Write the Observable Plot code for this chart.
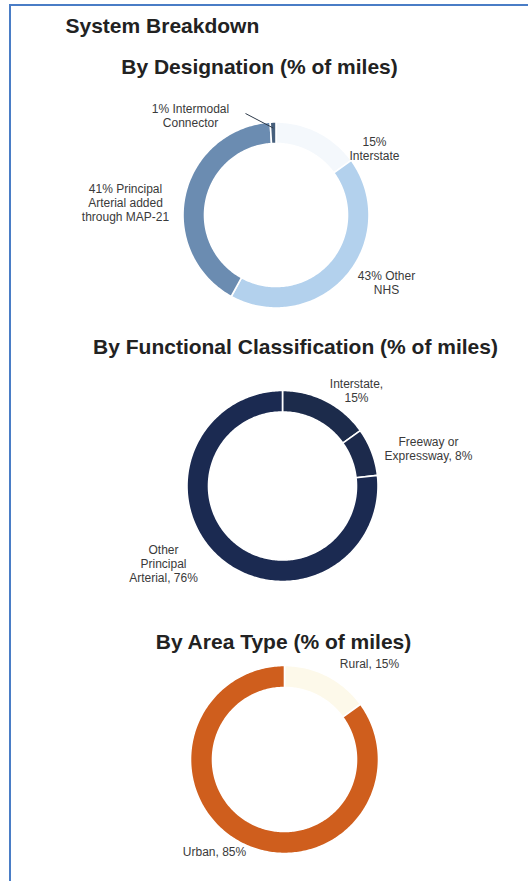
<!DOCTYPE html>
<html>
<head>
<meta charset="utf-8">
<script src="https://cdn.jsdelivr.net/npm/d3@7"></script>
<script src="https://cdn.jsdelivr.net/npm/@observablehq/plot@0.6"></script>
<style>
  html, body { margin: 0; padding: 0; background: #fff; }
  body { width: 528px; height: 881px; overflow: hidden; position: relative; }
  #frame { position: absolute; left: 9px; top: 4px; width: 530px; height: 890px;
           border-left: 2px solid #4a7dc6; border-top: 2px solid #4a7dc6; box-sizing: border-box; }
  #chart { position: absolute; left: 0; top: 0; }
</style>
</head>
<body>
<div id="frame"></div>
<div id="chart"></div>
<script>
// ---------- data ----------
const mainTitle = "System Breakdown";

const designationTitle = "By Designation (% of miles)";
const designationKeys = ["Interstate", "Other NHS", "Principal Arterial added through MAP-21", "Intermodal Connector"];
const designationValues = [15, 43, 41, 1];
const designationLabels = ["15%\nInterstate", "43% Other\nNHS", "41% Principal\nArterial added\nthrough MAP-21", "1% Intermodal\nConnector"];

const functionalTitle = "By Functional Classification (% of miles)";
const functionalKeys = ["Interstate", "Freeway or Expressway", "Other Principal Arterial"];
const functionalValues = [15, 8, 76];
const functionalLabels = ["Interstate,\n15%", "Freeway or\nExpressway, 8%", "Other\nPrincipal\nArterial, 76%"];

const areaTitle = "By Area Type (% of miles)";
const areaKeys = ["Rural", "Urban"];
const areaValues = [15, 85];
const areaLabels = ["Rural, 15%", "Urban, 85%"];

// ---------- styles / layout ----------
const designationColors = ["#f4f8fc", "#b3d1ed", "#6b8cb1", "#465f7c"];
const functionalColors = ["#1c2b4b", "#1c2a4c", "#1b2a51"];
const areaColors = ["#fdf9ea", "#cf5e1d"];

const layout = {
  designation: {cx: 275.5, cy: 214.5, r0: 71.5, r1: 93, titleX: 259, titleY: 73,
    labelOffsets: [[98.5, -66.5], [110.5, 67.5], [-150.5, -12.5], [-85.5, -99.5]]},
  functional: {cx: 282, cy: 485.5, r0: 74, r1: 95.5, titleX: 295, titleY: 353,
    labelOffsets: [[74, -95.5], [146, -37.5], [-119, 77.5]]},
  area: {cx: 284, cy: 759, r0: 72, r1: 94, titleX: 283, titleY: 648,
    labelOffsets: [[85, -96], [-70, 92]]}
};

// ---------- geometry from data ----------
const pie = d3.pie().sort(null).value(d => d.value);

function donut(name, keys, values, labels, colors) {
  const L = layout[name];
  const rows = keys.map((k, i) => ({key: k, value: values[i], label: labels[i], color: colors[i], i}));
  const arcs = pie(rows);
  const poly = [];
  const labelPts = [];
  arcs.forEach(a => {
    const a0 = a.startAngle, a1 = a.endAngle;
    const n = Math.max(2, Math.ceil((a1 - a0) / (Math.PI / 180)));
    const pts = [];
    for (let j = 0; j <= n; j++) {
      const t = a0 + (a1 - a0) * j / n;
      pts.push([L.cx + L.r1 * Math.sin(t), L.cy - L.r1 * Math.cos(t)]);
    }
    for (let j = n; j >= 0; j--) {
      const t = a0 + (a1 - a0) * j / n;
      pts.push([L.cx + L.r0 * Math.sin(t), L.cy - L.r0 * Math.cos(t)]);
    }
    pts.push(pts[0]);
    pts.forEach(p => poly.push({chart: name, key: a.data.key, x: p[0], y: p[1], color: a.data.color}));
    const off = L.labelOffsets[a.data.i];
    labelPts.push({x: L.cx + off[0], y: L.cy + off[1], text: a.data.label,
                   mid: (a0 + a1) / 2, key: a.data.key});
  });
  return {poly, labelPts, arcs, L};
}

const D = donut("designation", designationKeys, designationValues, designationLabels, designationColors);
const F = donut("functional", functionalKeys, functionalValues, functionalLabels, functionalColors);
const A = donut("area", areaKeys, areaValues, areaLabels, areaColors);

const polys = [...D.poly, ...F.poly, ...A.poly];
const labelsAll = [...D.labelPts, ...F.labelPts, ...A.labelPts];

// leader line for the 1% Intermodal Connector slice
const im = D.labelPts[3];
const leader = [{
  x1: D.L.cx - 30.5, y1: D.L.cy - 101.5,
  x2: D.L.cx + 87 * Math.sin(im.mid), y2: D.L.cy - 87 * Math.cos(im.mid)
}];

const titles = [
  {text: designationTitle, x: layout.designation.titleX, y: layout.designation.titleY},
  {text: functionalTitle, x: layout.functional.titleX, y: layout.functional.titleY},
  {text: areaTitle, x: layout.area.titleX, y: layout.area.titleY}
];

const chart = Plot.plot({
  width: 528,
  height: 881,
  margin: 0,
  style: {fontFamily: "'Liberation Sans', Arial, sans-serif", background: "transparent", overflow: "visible"},
  x: {domain: [0, 528], range: [0, 528], axis: null},
  y: {domain: [0, 881], range: [0, 881], axis: null},
  color: {type: "identity"},
  marks: [
    Plot.line(polys, {x: "x", y: "y", z: d => d.chart + d.key, fill: "color", stroke: "#ffffff",
      strokeWidth: 1.6, strokeOpacity: 1, curve: "linear"}),
    Plot.link(leader, {x1: "x1", y1: "y1", x2: "x2", y2: "y2", stroke: "#2d3a4a", strokeWidth: 1}),
    Plot.text(labelsAll, {x: "x", y: "y", text: "text", fontSize: 12, lineHeight: 1.17,
      fill: "#3a3a3a", textAnchor: "middle", lineAnchor: "middle"}),
    Plot.text(titles, {x: "x", y: "y", text: "text", fontSize: 21, fontWeight: "bold",
      fill: "#222222", textAnchor: "middle", lineAnchor: "bottom"}),
    Plot.text([mainTitle], {x: () => 65, y: () => 32, text: d => d, fontSize: 21, fontWeight: "bold",
      fill: "#222222", textAnchor: "start", lineAnchor: "bottom"})
  ]
});
document.getElementById("chart").appendChild(chart);
</script>
</body>
</html>
